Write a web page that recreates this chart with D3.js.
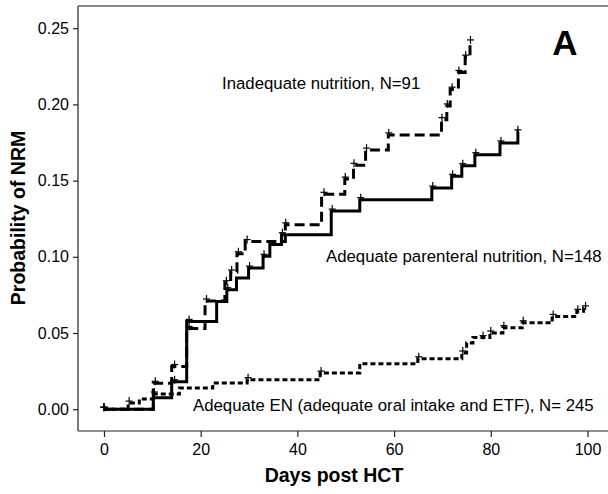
<!DOCTYPE html>
<html>
<head>
<meta charset="utf-8">
<script src="https://cdn.jsdelivr.net/npm/d3@7"></script>
<style>
	html, body { margin: 0; padding: 0; background: #fff; }
	svg { display: block; }
	text { font-family: "Liberation Sans", Arial, sans-serif; fill: #000; }
</style>
</head>
<body>
<script>
'use strict';

// Step points (day, cumulative probability).
const inadequateDays   = [0, 10.2, 14.0, 17.1, 20.9, 25.0, 26.2, 27.5, 29.2, 37.5, 45.0, 49.8, 51.6, 54.1, 58.8, 69.8, 70.9, 71.6, 73.3, 74.7, 75.7];
const inadequateValues = [0, 0.017, 0.028, 0.053, 0.071, 0.083, 0.090, 0.102, 0.110, 0.121, 0.141, 0.151, 0.160, 0.170, 0.180, 0.190, 0.199, 0.210, 0.221, 0.231, 0.241];
const inadequateCensor = [0, 10.6, 14.6, 17.6, 21.2, 25.3, 26.4, 27.8, 29.6, 37.6, 45.5, 49.9, 51.7, 54.3, 58.9, 69.9, 71.0, 72.0, 73.4, 74.8, 75.8];

const parenteralDays   = [0, 10.2, 14.0, 17.1, 23.3, 25.4, 27.4, 29.9, 32.9, 34.3, 36.7, 47.0, 52.9, 67.8, 71.9, 74.0, 76.7, 81.9, 85.6];
const parenteralValues = [0, 0.0075, 0.018, 0.0576, 0.0707, 0.0784, 0.0861, 0.0926, 0.1003, 0.108, 0.1145, 0.130, 0.1375, 0.1451, 0.1528, 0.1598, 0.167, 0.1747, 0.182];
const parenteralCensor = [0, 14.6, 17.6, 25.6, 30.1, 33.1, 36.9, 47.2, 53.1, 68.0, 72.1, 74.2, 76.9, 82.1, 85.6];

const enDays   = [0, 5.0, 7.3, 10.2, 15.6, 22.5, 29.6, 44.7, 52.9, 64.9, 74.0, 75.0, 76.3, 79.8, 82.5, 86.5, 92.7, 97.8, 99.2];
const enValues = [0, 0.004, 0.0067, 0.010, 0.0139, 0.0172, 0.0194, 0.0237, 0.0299, 0.0331, 0.0369, 0.0434, 0.047, 0.050, 0.0535, 0.0567, 0.0609, 0.0642, 0.0665];
const enCensor = [0, 5.2, 10.4, 29.8, 44.9, 65.1, 74.2, 78.4, 80.0, 82.7, 86.7, 92.9, 98.0, 99.6];

const seriesEnd = [75.9, 85.8, 99.6];

const seriesLabels = [
	"Inadequate nutrition, N=91",
	"Adequate parenteral nutrition, N=148",
	"Adequate EN (adequate oral intake and ETF), N= 245"
];

const xTicks = [0, 20, 40, 60, 80, 100];
const yTicks = [0, 0.05, 0.10, 0.15, 0.20, 0.25];

class NrmChart
{
	constructor(width, height)
	{
		this.width = width;
		this.height = height;
		this.frame = { left: 78, top: 6, bottom: 431, right: 620 };
		this.svg = d3.select("body").append("svg")
			.attr("width", width)
			.attr("height", height);

		this.x = d3.scaleLinear().domain([0, 100]).range([104, 587.5]);
		this.y = d3.scaleLinear().domain([0, 0.25]).range([409.2, 28.2]);

		this.DrawFrame();
		this.DrawAxes();
		this.DrawSeries(inadequateDays, inadequateValues, inadequateCensor, seriesEnd[0], "10,5");
		this.DrawSeries(parenteralDays, parenteralValues, parenteralCensor, seriesEnd[1], null);
		this.DrawSeries(enDays, enValues, enCensor, seriesEnd[2], "5,3");
		this.DrawLabels();
	}

	DrawFrame()
	{
		let f = this.frame;
		this.svg.append("line")
			.attr("x1", f.left).attr("x2", f.right)
			.attr("y1", f.top).attr("y2", f.top)
			.attr("stroke", "#8a8a8a").attr("stroke-width", 2);
		this.svg.append("line")
			.attr("x1", f.left).attr("x2", f.left)
			.attr("y1", f.top).attr("y2", f.bottom)
			.attr("stroke", "#222").attr("stroke-width", 1.2);
		this.svg.append("line")
			.attr("x1", f.left).attr("x2", f.right)
			.attr("y1", f.bottom).attr("y2", f.bottom)
			.attr("stroke", "#222").attr("stroke-width", 1.2);
	}

	DrawAxes()
	{
		let f = this.frame;
		let xAxis = d3.axisBottom(this.x)
			.tickValues(xTicks)
			.tickSize(6)
			.tickPadding(7)
			.tickFormat(d3.format("d"));
		let xg = this.svg.append("g")
			.attr("transform", "translate(0," + f.bottom + ")")
			.call(xAxis);
		xg.select(".domain").remove();

		let yAxis = d3.axisLeft(this.y)
			.tickValues(yTicks)
			.tickSize(5)
			.tickPadding(4)
			.tickFormat(d3.format(".2f"));
		let yg = this.svg.append("g")
			.attr("transform", "translate(" + f.left + ",0)")
			.call(yAxis);
		yg.select(".domain").remove();

		this.svg.selectAll(".tick line").attr("stroke", "#222").attr("stroke-width", 1.2);
		this.svg.selectAll(".tick text")
			.attr("font-family", "'Liberation Sans', Arial, sans-serif")
			.attr("font-size", 16)
			.attr("fill", "#000");

		this.svg.append("text")
			.attr("x", 334).attr("y", 482)
			.attr("text-anchor", "middle")
			.attr("font-size", 19.5).attr("font-weight", "bold")
			.text("Days post HCT");

		this.svg.append("text")
			.attr("transform", "translate(25,218) rotate(-90)")
			.attr("text-anchor", "middle")
			.attr("font-size", 19.5).attr("font-weight", "bold")
			.text("Probability of NRM");
	}

	// Draws one step curve with its censoring marks.
	DrawSeries(days, values, censor, endDay, dash)
	{
		let sThis = this;
		let points = days.map((d, i) => [d, values[i]]);
		points.push([endDay, values[values.length - 1]]);

		let line = d3.line()
			.x(d => sThis.x(d[0]))
			.y(d => sThis.y(d[1]))
			.curve(d3.curveStepAfter);

		let path = this.svg.append("path")
			.datum(points)
			.attr("d", line)
			.attr("fill", "none")
			.attr("stroke", "#000")
			.attr("stroke-width", 3);
		if (dash)
		{
			path.attr("stroke-dasharray", dash);
		}

		let valueAt = function(t)
		{
			let v = 0;
			for (let i = 0; i < days.length; i++)
			{
				if (days[i] <= t)
				{
					v = values[i];
				}
			}
			return v;
		};

		let marks = this.svg.append("g");
		marks.selectAll("line.v")
			.data(censor)
			.enter()
			.append("line")
			.attr("x1", d => sThis.x(d)).attr("x2", d => sThis.x(d))
			.attr("y1", d => sThis.y(valueAt(d)) - 6)
			.attr("y2", d => sThis.y(valueAt(d)) + 2)
			.attr("stroke", "#000").attr("stroke-width", 1.2);
		marks.selectAll("line.h")
			.data(censor)
			.enter()
			.append("line")
			.attr("x1", d => sThis.x(d) - 3.5).attr("x2", d => sThis.x(d) + 3.5)
			.attr("y1", d => sThis.y(valueAt(d)) - 2)
			.attr("y2", d => sThis.y(valueAt(d)) - 2)
			.attr("stroke", "#000").attr("stroke-width", 1.2);
	}

	DrawLabels()
	{
		let spots = [[222, 89], [326, 262], [193, 411]];
		this.svg.selectAll("text.label")
			.data(seriesLabels)
			.enter()
			.append("text")
			.attr("x", (d, i) => spots[i][0])
			.attr("y", (d, i) => spots[i][1])
			.attr("font-size", 16.8)
			.text(d => d);

		this.svg.append("text")
			.attr("x", 565).attr("y", 55)
			.attr("text-anchor", "middle")
			.attr("font-size", 35).attr("font-weight", "bold")
			.text("A");
	}
}

let chart = new NrmChart(608, 494);
</script>
</body>
</html>
